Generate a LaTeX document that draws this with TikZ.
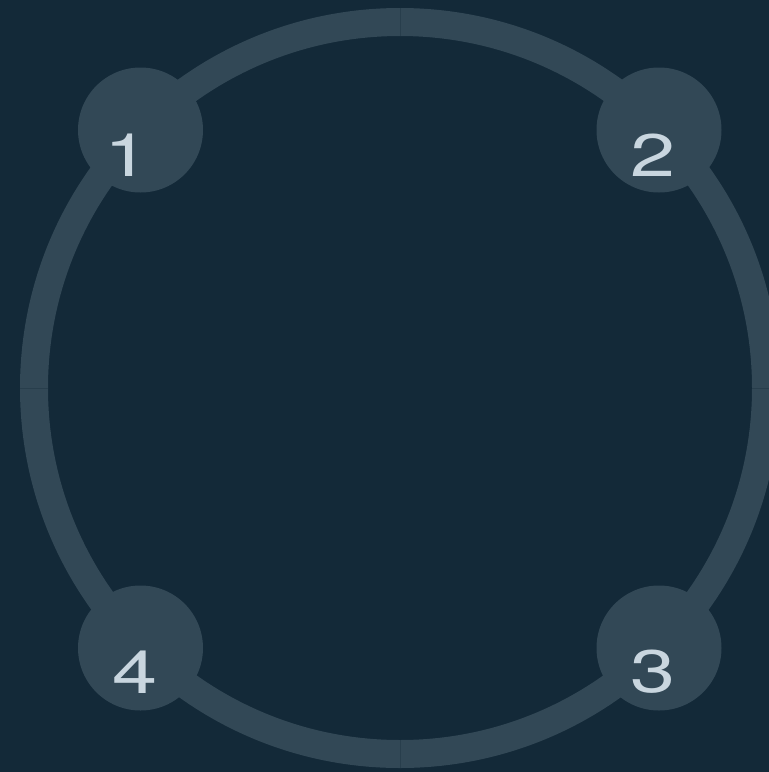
\documentclass[tikz,border=0pt]{standalone}
\usepackage{fontspec}
\newfontfamily\widefont[FakeStretch=1.35]{TeX Gyre Heros}
\usetikzlibrary{positioning,calc}
\definecolor{bgnavy}{HTML}{132938}
\definecolor{ringgray}{HTML}{324856}
\definecolor{seamgray}{HTML}{283E4C}
\definecolor{numwhite}{HTML}{C9D6DF}
\tikzset{
  stepdot/.style={circle,fill=ringgray,minimum size=125pt,inner sep=0pt},
  stepnum/.style={text=numwhite,inner sep=0pt,font=\widefont\fontsize{60}{60}\selectfont},
}

\begin{document}
\begin{tikzpicture}[x=1pt,y=-1pt]
 \fill[bgnavy] (0,0) rectangle (769,772);
 \useasboundingbox (0,0) rectangle (769,772);
 \coordinate (ctr) at (400,388);
 % ring and its four seams
 \draw[ringgray,line width=28pt] (ctr) circle[radius=366];
 \foreach \a in {0,90,180,270}{
   \draw[seamgray,line width=1pt] ($(ctr)+(\a:352)$) -- ($(ctr)+(\a:380)$);}
 % step dots
 \node[stepdot] (n1) at (140.5,130) {};
 \node[stepdot] (n2) at (659,130) {};
 \node[stepdot] (n3) at (659,648) {};
 \node[stepdot] (n4) at (140.5,648) {};
 \node[stepnum] (t1) at ([xshift=-13.5pt,yshift=-25pt]n1.center) {1};
 \node[stepnum] (t2) at ([xshift=-6pt,yshift=-25pt]n2.center) {2};
 \node[stepnum] (t3) at ([xshift=-6pt,yshift=-24pt]n3.center) {3};
 \node[stepnum] (t4) at ([xshift=-5.5pt,yshift=-24pt]n4.center) {4};
\end{tikzpicture}
\end{document}
